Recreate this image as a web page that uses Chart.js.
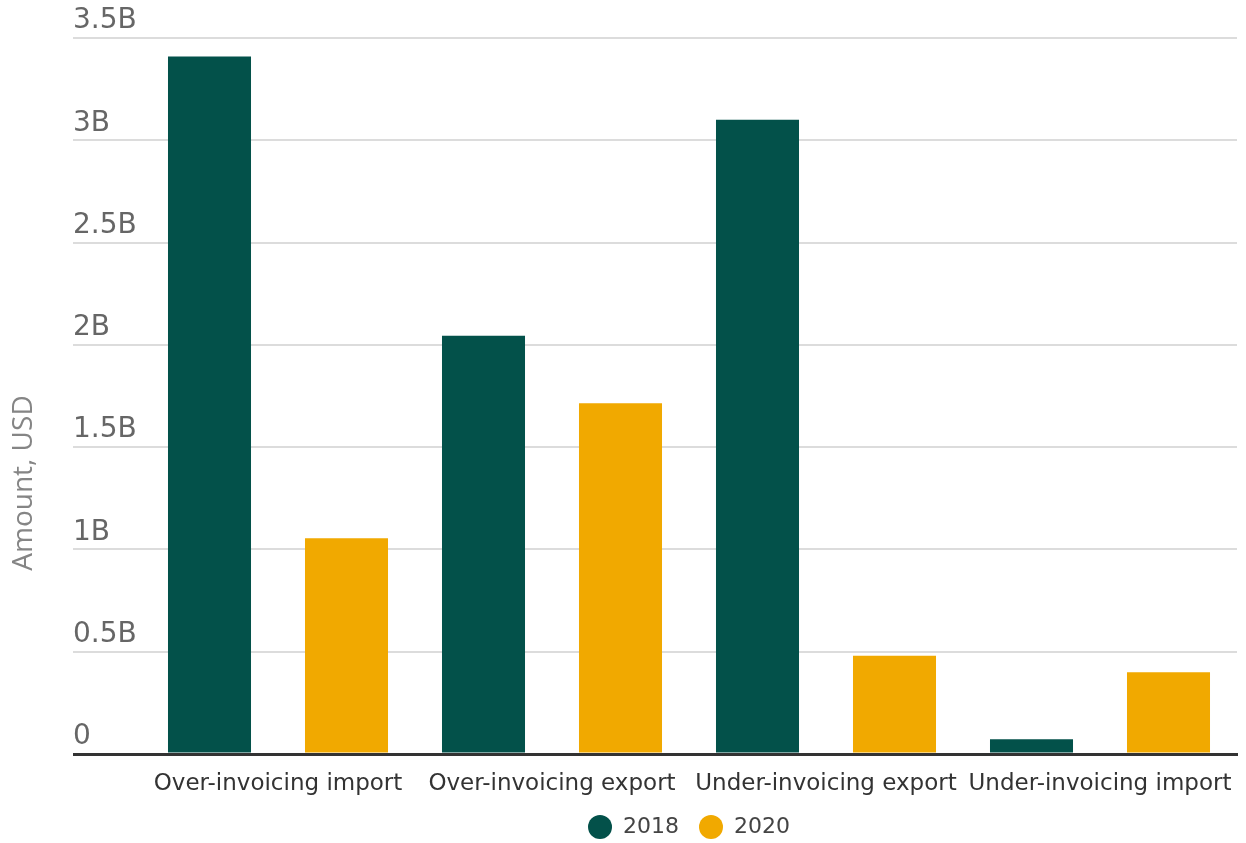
<!DOCTYPE html>
<html>
<head>
<meta charset="utf-8">
<title>Trade mis-invoicing, 2018 vs 2020</title>
<script src="https://cdn.jsdelivr.net/npm/chart.js@4/dist/chart.umd.min.js"></script>
<style>
    html, body { margin: 0; padding: 0; background: #fff; }
    .chart-wrap { width: 1246px; height: 843px; position: relative; }
</style>
</head>
<body>
<div class="chart-wrap"><canvas id="misinvoiceChart"></canvas></div>
<script>
// ===== DATA =====
const categories = ['Over-invoicing import', 'Over-invoicing export', 'Under-invoicing export', 'Under-invoicing import'];
const values2018 = [3.41e9, 2.045e9, 3.1e9, 0.072e9];
const values2020 = [1.055e9, 1.715e9, 0.48e9, 0.40e9];
const yTickLabels = ['0', '0.5B', '1B', '1.5B', '2B', '2.5B', '3B', '3.5B'];
const yAxisTitle = 'Amount, USD';

const GREEN = '#03514a';
const ORANGE = '#f1a900';

// rotated axis title, sits left of the tick labels
const axisTitlePlugin = {
    id: 'axisTitle',
    afterDraw(chart) {
        const ctx = chart.ctx;
        ctx.save();
        ctx.translate(24, 483);
        ctx.rotate(-Math.PI / 2);
        ctx.font = "28px 'Open Sans', sans-serif";
        ctx.fillStyle = '#858585';
        ctx.textAlign = 'center';
        ctx.textBaseline = 'middle';
        ctx.fillText(yAxisTitle, 0, 0);
        ctx.restore();
    }
};

new Chart(document.getElementById('misinvoiceChart'), {
    type: 'bar',
    data: {
        labels: categories,
        datasets: [
            { label: '2018', data: values2018, backgroundColor: GREEN, borderWidth: 0 },
            { label: '2020', data: values2020, backgroundColor: ORANGE, borderWidth: 0 }
        ]
    },
    options: {
        responsive: true,
        maintainAspectRatio: false,
        animation: false,
        layout: { padding: { left: 73, right: 9, top: 38, bottom: -6 } },
        datasets: {
            bar: { categoryPercentage: 1.0, barPercentage: 0.606 }
        },
        plugins: {
            tooltip: { enabled: false },
            legend: {
                position: 'bottom',
                fullSize: false,
                labels: {
                    boxWidth: 24,
                    boxHeight: 24,
                    useBorderRadius: true,
                    borderRadius: 12,
                    padding: 20,
                    color: '#444',
                    font: { size: 22, family: "'DejaVu Sans', sans-serif" }
                }
            }
        },
        scales: {
            x: {
                grid: { display: false, drawTicks: false },
                border: { display: true, color: '#333', width: 3, z: 1 },
                ticks: {
                    padding: 16,
                    color: '#333',
                    maxRotation: 0,
                    autoSkip: false,
                    font: { size: 23, family: "'DejaVu Sans', sans-serif" }
                },
                afterFit(scale) {
                    scale.height = 41;
                    scale.paddingLeft = 0;
                    scale.paddingRight = 0;
                }
            },
            y: {
                min: 0,
                max: 3.5e9,
                border: { display: false },
                grid: {
                    drawTicks: true,
                    tickLength: 68,
                    color: (c) => c.tick && c.tick.value === 0 ? '#333' : '#dcdcdc',
                    lineWidth: (c) => c.tick && c.tick.value === 0 ? 3 : 2
                },
                ticks: {
                    stepSize: 0.5e9,
                    crossAlign: 'far',
                    labelOffset: -17,
                    color: '#666',
                    font: { size: 28, family: "'DejaVu Sans', sans-serif" },
                    callback: (value, index) => yTickLabels[index]
                },
                afterFit(scale) { scale.width = 68; }
            }
        }
    },
    plugins: [axisTitlePlugin]
});
</script>
</body>
</html>
